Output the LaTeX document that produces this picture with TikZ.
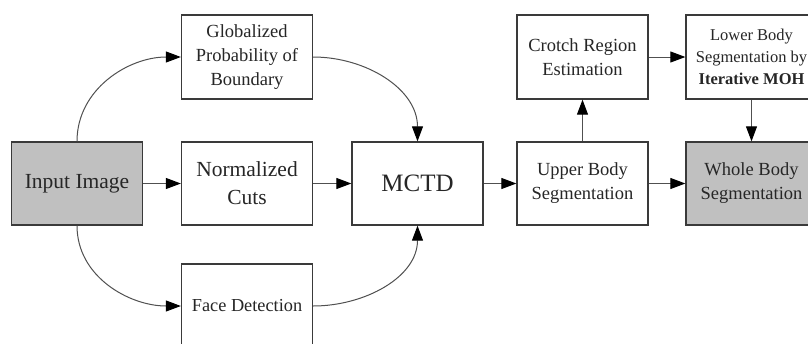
\documentclass[tikz,border=0pt]{standalone}
\usepackage{fontspec}
\setmainfont{Liberation Serif}
\usetikzlibrary{arrows.meta}
\definecolor{boxgray}{HTML}{C0C0C0}
\definecolor{edge}{HTML}{3A3A3A}
\definecolor{linegray}{HTML}{505050}
\begin{document}
\begin{tikzpicture}[x=1pt,y=-1pt,
  box/.style={draw=edge,line width=1.3pt,fill=white,minimum width=131pt,minimum height=83pt,inner sep=0pt,align=center,text=black!85},
  grbox/.style={box,fill=boxgray},
  arr/.style={draw=linegray,line width=1pt,-{Triangle[length=15pt,width=11pt,color=black]}},
  every node/.append style={font=\fontsize{18.5}{24}\selectfont}]
\useasboundingbox (0,0) rectangle (808,343);
\clip (0,0) rectangle (808,343);
\fill[white] (0,0) rectangle (808,343);
\node[grbox,font=\fontsize{21.5}{26}\selectfont] (in) at (77,183.5) {Input Image};
\node[box,minimum height=84pt] (glob) at (247,57) {Globalized\\Probability of\\Boundary};
\node[box,font=\fontsize{21.5}{28}\selectfont] (norm) at (247,183.5) {Normalized\\Cuts};
\node[box,minimum height=84pt,font=\fontsize{18.3}{24}\selectfont] (face) at (247,306) {Face Detection};
\node[box,font=\fontsize{25}{30}\selectfont] (mctd) at (417.5,183.5) {MCTD};
\node[box,minimum height=84pt] (crotch) at (582.5,57) {Crotch Region\\Estimation};
\node[box] (upper) at (582.5,183.5) {Upper Body\\Segmentation};
\node[box,minimum height=84pt,font=\fontsize{16.5}{22}\selectfont] (lower) at (751.5,57) {Lower Body\\Segmentation by\\\textbf{Iterative MOH}};
\node[grbox] (whole) at (751.5,183.5) {Whole Body\\Segmentation};
\draw[arr] (in) -- (norm);
\draw[arr] (norm) -- (mctd);
\draw[arr] (mctd) -- (upper);
\draw[arr] (upper) -- (whole);
\draw[arr] (upper) -- (crotch);
\draw[arr] (crotch) -- (lower);
\draw[arr] (lower) -- (whole);
\draw[arr] (in.north) to[out=90,in=180] (glob.west);
\draw[arr] (in.south) to[out=-90,in=180] (face.west);
\draw[arr] (glob.east) to[out=0,in=90] (mctd.north);
\draw[arr] (face.east) to[out=0,in=-90] (mctd.south);
\end{tikzpicture}
\end{document}
